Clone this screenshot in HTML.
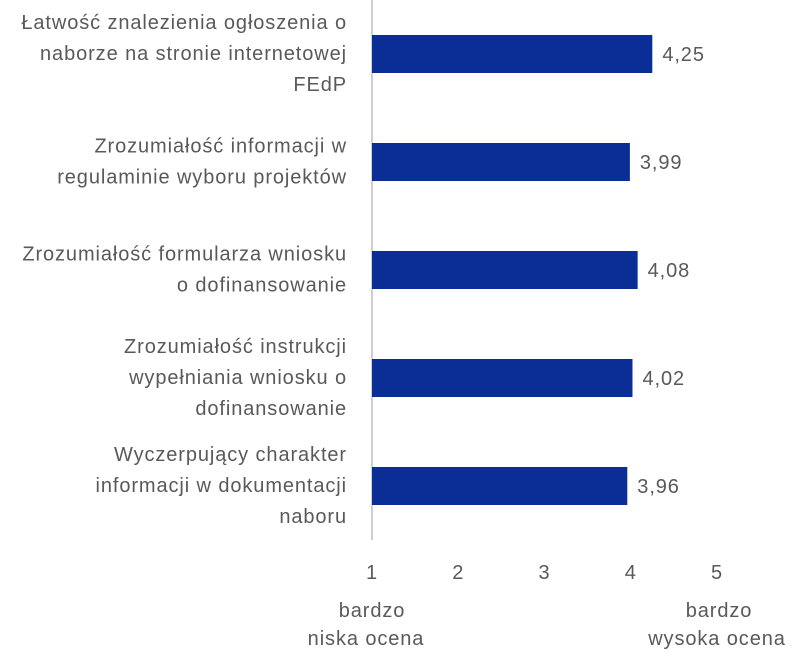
<!DOCTYPE html>
<html><head><meta charset="utf-8"><style>
body{margin:0;background:#fff;}
svg text{font-family:"Liberation Sans",sans-serif;fill:#595959;font-size:20px;letter-spacing:0.9px;}
</style></head><body>
<svg width="804" height="663" xmlns="http://www.w3.org/2000/svg" id="chart">
<line x1="372" y1="0" x2="372" y2="540" stroke="#bfbfbf" stroke-width="1.5"/>
<text x="372" y="617" text-anchor="middle">bardzo</text>
<text x="366" y="645" text-anchor="middle">niska ocena</text>
<text x="719" y="617" text-anchor="middle">bardzo</text>
<text x="717" y="645" text-anchor="middle">wysoka ocena</text>
</svg>
<script>
const categories=[
["Łatwość znalezienia ogłoszenia o","naborze na stronie internetowej","FEdP"],
["Zrozumiałość informacji w","regulaminie wyboru projektów"],
["Zrozumiałość formularza wniosku","o dofinansowanie"],
["Zrozumiałość instrukcji","wypełniania wniosku o","dofinansowanie"],
["Wyczerpujący charakter","informacji w dokumentacji","naboru"]];
const values=[4.25,3.99,4.08,4.02,3.96];
const valueLabels=["4,25","3,99","4,08","4,02","3,96"];
const ticks=[1,2,3,4,5];
const NS="http://www.w3.org/2000/svg";
const svg=document.getElementById('chart');
const x=v=>372+(v-1)*86.25;
const yc=i=>54+i*108;
function mk(tag,attrs,txt){const e=document.createElementNS(NS,tag);for(const k in attrs)e.setAttribute(k,attrs[k]);if(txt!==undefined)e.textContent=txt;svg.appendChild(e);return e;}
ticks.forEach(t=>{
const e=mk('text',{x:x(t),y:579,'text-anchor':'middle'},String(t));


});
values.forEach((v,i)=>{
const b=mk('rect',{x:x(1),y:yc(i)-19,width:x(v)-x(1),height:38,fill:'#0a2d96'});


const l=mk('text',{x:x(v)+10,y:yc(i)+7},valueLabels[i]);


const lines=categories[i];const lh=31;const y0=yc(i)-(lines.length-1)*lh/2+6;
lines.forEach((s,j)=>{
const t=mk('text',{x:347,y:y0+j*lh,'text-anchor':'end'},s);


});
});
</script>
</body></html>
